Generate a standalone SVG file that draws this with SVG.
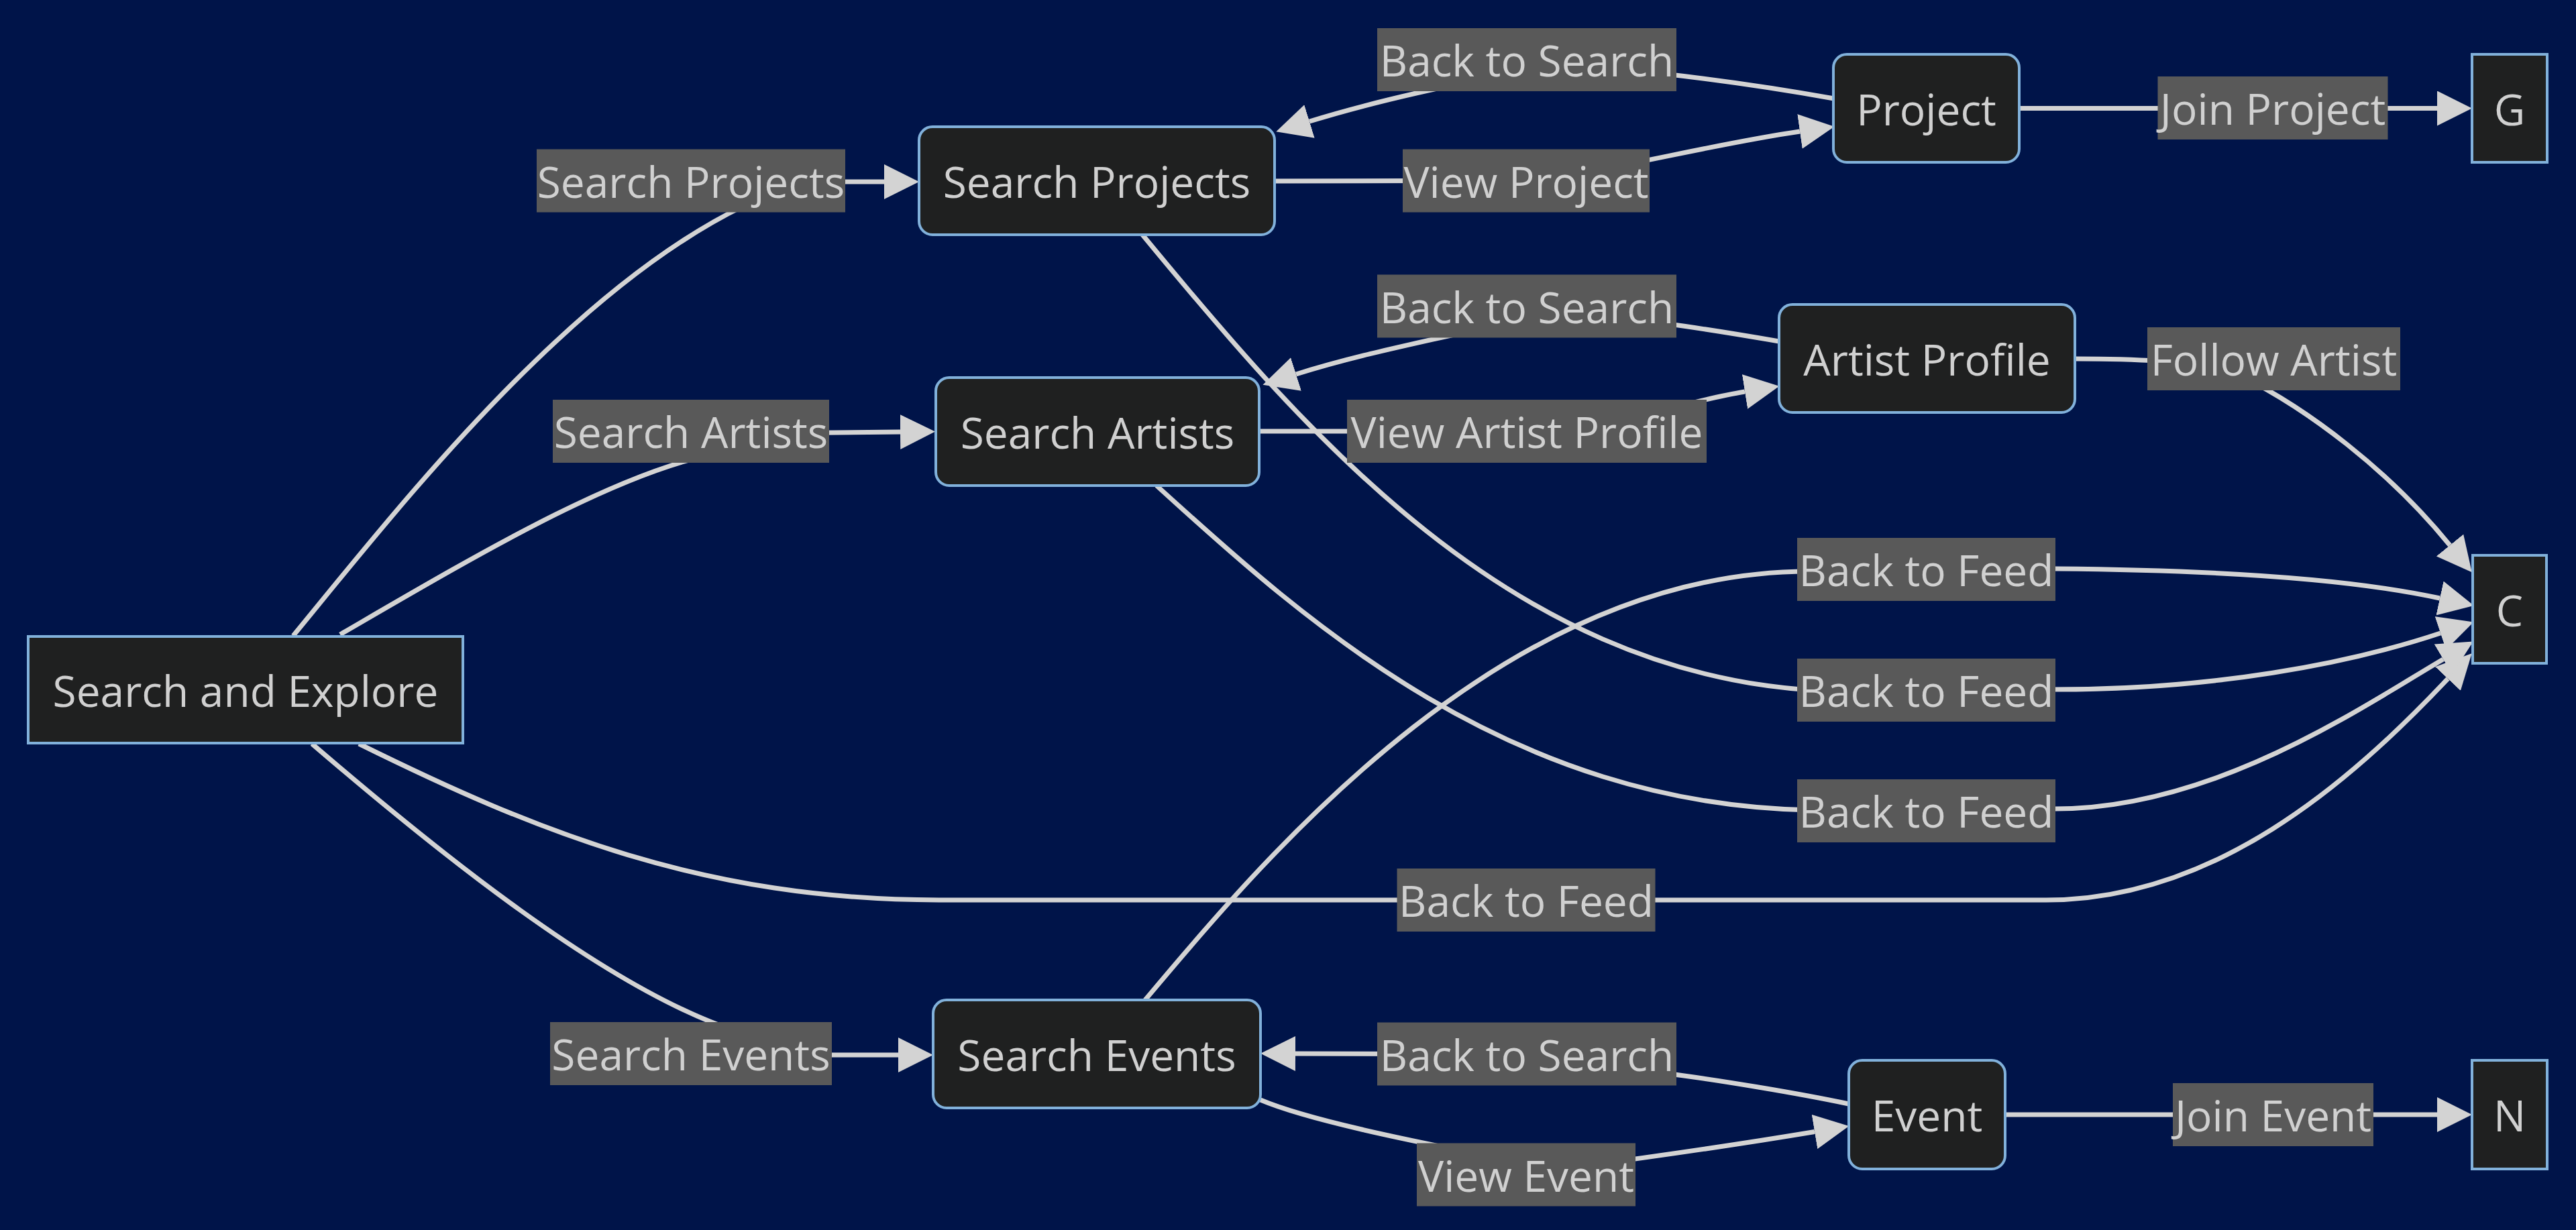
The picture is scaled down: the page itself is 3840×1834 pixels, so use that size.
<svg xmlns="http://www.w3.org/2000/svg" width="3840" height="1834" viewBox="0 0 3840 1834">
<defs>
<marker id="arr" viewBox="0 0 10 10" refX="0" refY="5" markerUnits="userSpaceOnUse" markerWidth="52" markerHeight="52" orient="auto"><path d="M0,0 L10,5 L0,10 z" fill="#d3d3d3"/></marker>
<style>
.bg{fill:#001449}
.node rect{fill:#1f2020;stroke:#81b1db;stroke-width:4}
.node text,.lbl text{font-family:"Open Sans","Noto Sans",sans-serif;font-size:64px;fill:#d0d0d0;text-anchor:middle}
.lbl rect{fill:#595959}
#edges path{fill:none;stroke:#d3d3d3;stroke-width:7;marker-end:url(#arr)}
</style>
</defs>
<rect class="bg" x="0" y="0" width="3840" height="1834"/>
<g id="edges">
<path d="M437,948 C600,750 900,360 1200,271 L1318,271"/>
<path d="M507,946 C700,834 900,715 1050,680 L1150,646 L1342,644"/>
<path d="M465,1109 C650,1268 900,1470 1090,1535 L1200,1573 L1339,1573"/>
<path d="M535,1109 C800,1240 1050,1342 1400,1342 L3050,1342 C3300,1342 3500,1170 3649,1012"/>
<path d="M1703,350 C1950,650 2250,1000 2700,1029 L3064,1028 C3300,1028 3500,990 3638,944"/>
<path d="M1724,724 C1950,930 2250,1200 2700,1208 L3064,1206 C3300,1206 3520,1055 3642,983"/>
<path d="M1707,1491 C1900,1260 2250,850 2700,852 L3064,848 C3300,850 3500,862 3637,892"/>
<path d="M1900,270 L2276,269 C2380,260 2550,215 2683,196"/>
<path d="M2734,147 C2640,130 2560,119 2480,110 L2276,89 L2200,120 C2100,140 2020,160 1952,181"/>
<path d="M1877,643 L2276,643 C2400,643 2500,600 2601,584"/>
<path d="M2652,509 C2600,500 2540,490 2480,482 L2276,456 L2230,485 C2120,510 2020,530 1932,558"/>
<path d="M3094,535 C3200,535 3300,540 3340,560 C3440,610 3560,700 3652,813"/>
<path d="M3010,161.5 L3633,161.5"/>
<path d="M2989,1662 L3633,1662"/>
<path d="M1879,1640 C1950,1670 2100,1700 2200,1720 L2275,1751 L2350,1740 C2500,1720 2600,1705 2705,1687.5"/>
<path d="M2756,1646 C2680,1630 2560,1610 2480,1600 L2276,1572 L1931,1571"/>
</g>
<g id="edge-labels">
<g class="lbl"><rect x="800" y="222.5" width="460" height="94"/><text x="1030" y="294.5">Search Projects</text></g>
<g class="lbl"><rect x="824" y="596" width="412" height="94"/><text x="1030" y="668">Search Artists</text></g>
<g class="lbl"><rect x="820" y="1524" width="420" height="94"/><text x="1030" y="1596">Search Events</text></g>
<g class="lbl"><rect x="2053" y="42" width="446" height="94"/><text x="2276" y="114">Back to Search</text></g>
<g class="lbl"><rect x="2091" y="222.5" width="368" height="94"/><text x="2275" y="294.5">View Project</text></g>
<g class="lbl"><rect x="3216.5" y="114" width="343" height="94"/><text x="3388" y="186">Join Project</text></g>
<g class="lbl"><rect x="2053" y="409.5" width="446" height="94"/><text x="2276" y="481.5">Back to Search</text></g>
<g class="lbl"><rect x="2008" y="596" width="536" height="94"/><text x="2276" y="668">View Artist Profile</text></g>
<g class="lbl"><rect x="3201" y="488" width="377" height="94"/><text x="3389.5" y="560">Follow Artist</text></g>
<g class="lbl"><rect x="2679" y="802" width="385" height="94"/><text x="2871.5" y="874">Back to Feed</text></g>
<g class="lbl"><rect x="2679" y="982" width="385" height="94"/><text x="2871.5" y="1054">Back to Feed</text></g>
<g class="lbl"><rect x="2679" y="1162" width="385" height="94"/><text x="2871.5" y="1234">Back to Feed</text></g>
<g class="lbl"><rect x="2082.5" y="1295" width="385" height="94"/><text x="2275" y="1367">Back to Feed</text></g>
<g class="lbl"><rect x="2053" y="1524.5" width="446" height="94"/><text x="2276" y="1596.5">Back to Search</text></g>
<g class="lbl"><rect x="2112" y="1704.5" width="326" height="94"/><text x="2275" y="1776.5">View Event</text></g>
<g class="lbl"><rect x="3239" y="1615" width="299" height="94"/><text x="3388.5" y="1687">Join Event</text></g>
</g>
<g id="node-search-explore" class="node"><rect x="42" y="949" width="648" height="159"/><text x="366" y="1053.5">Search and Explore</text></g>
<g id="node-search-projects" class="node"><rect x="1370" y="189" width="530" height="161" rx="20"/><text x="1635" y="294.5">Search Projects</text></g>
<g id="node-search-artists" class="node"><rect x="1395" y="563" width="482" height="161" rx="20"/><text x="1636" y="668.5">Search Artists</text></g>
<g id="node-search-events" class="node"><rect x="1391" y="1491" width="488" height="161" rx="20"/><text x="1635" y="1596.5">Search Events</text></g>
<g id="node-project" class="node"><rect x="2733" y="81" width="277" height="161" rx="20"/><text x="2871.5" y="186.5">Project</text></g>
<g id="node-artist-profile" class="node"><rect x="2652" y="454" width="441" height="161" rx="20"/><text x="2872.5" y="559.5">Artist Profile</text></g>
<g id="node-event" class="node"><rect x="2756" y="1581" width="233" height="162" rx="20"/><text x="2872.5" y="1687">Event</text></g>
<g id="node-G" class="node"><rect x="3685" y="81" width="112" height="161"/><text x="3741" y="186.5">G</text></g>
<g id="node-C" class="node"><rect x="3686" y="828" width="110" height="161"/><text x="3741" y="933.5">C</text></g>
<g id="node-N" class="node"><rect x="3685" y="1581" width="112" height="162"/><text x="3741" y="1687">N</text></g>
</svg>
